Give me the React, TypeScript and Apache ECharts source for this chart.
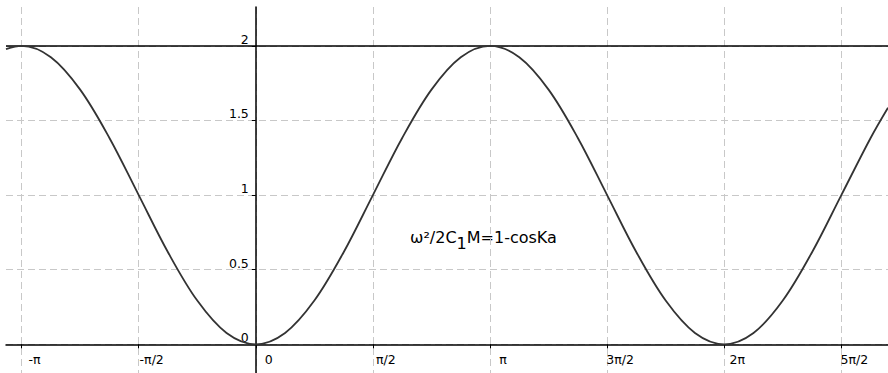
import React, { useEffect, useRef } from "react";
import * as echarts from "echarts";

// Curve samples (x in radians, y value)
const curveX = [
  -3.351, -3.1416, -2.7489, -2.3562, -1.9635, -1.5708, -1.1781, -0.7854, -0.3927, 0,
  0.3927, 0.7854, 1.1781, 1.5708, 1.9635, 2.3562, 2.7489, 3.1416, 3.5343, 3.927,
  4.3197, 4.7124, 5.1051, 5.4978, 5.8905, 6.2832, 6.6759, 7.0686, 7.4613, 7.854,
  8.2467, 8.48,
];
const curveY = [
  1.978, 2, 1.924, 1.707, 1.383, 1, 0.617, 0.293, 0.076, 0,
  0.076, 0.293, 0.617, 1, 1.383, 1.707, 1.924, 2, 1.924, 1.707,
  1.383, 1, 0.617, 0.293, 0.076, 0, 0.076, 0.293, 0.617, 1,
  1.383, 1.586,
];
const levelY = 2;

const xTickValues = [-Math.PI, -Math.PI / 2, 0, Math.PI / 2, Math.PI, (3 * Math.PI) / 2, 2 * Math.PI, (5 * Math.PI) / 2];
const xTickLabels = ["-π", "-π/2", "0", "π/2", "π", "3π/2", "2π", "5π/2"];
const yTickValues = [0, 0.5, 1, 1.5, 2];
const yTickLabels = ["0", "0.5", "1", "1.5", "2"];

const X_MIN = -3.351;
const X_MAX = 8.48;
const Y_MIN = -0.1924;
const Y_MAX = 2.2607;

const GRID_LEFT = 6;
const GRID_TOP = 7;
const W = 888;
const H = 373;

const FONT = "'DejaVu Sans', 'Liberation Sans', Arial, sans-serif";

export default function App() {
  const ref = useRef<HTMLDivElement>(null);
  useEffect(() => {
    if (!ref.current) return;
    const chart = echarts.init(ref.current, undefined, { renderer: "svg" });
    const gridDash = { color: "#c8c8c8", width: 1, type: [7, 4] as any };
    const gw = W - GRID_LEFT;
    const gh = H - GRID_TOP;
    // place axis lines at the zero of the other axis
    const zeroXpx = GRID_LEFT + ((0 - X_MIN) / (X_MAX - X_MIN)) * gw;
    const zeroYpx = GRID_TOP + ((Y_MAX - 0) / (Y_MAX - Y_MIN)) * gh;
    chart.setOption({
      animation: false,
      backgroundColor: "#ffffff",
      grid: { left: GRID_LEFT, top: GRID_TOP, right: 0, bottom: 0, containLabel: false, outerBoundsMode: "none" },
      xAxis: {
        type: "value",
        min: X_MIN,
        max: X_MAX,
        position: "bottom",
        offset: -(H - zeroYpx),
        axisLine: { onZero: false, lineStyle: { color: "#000", width: 1.5 } },
        axisTick: { show: true, length: 4, customValues: xTickValues, lineStyle: { color: "#000" } },
        axisLabel: {
          customValues: xTickValues,
          formatter: (v: number) => {
            const i = xTickValues.findIndex((t) => Math.abs(t - v) < 1e-6);
            return i >= 0 ? xTickLabels[i] : "";
          },
          color: "#000",
          fontFamily: FONT,
          fontSize: 12.5,
          align: "center",
          padding: [0, 0, 0, 26],
          margin: 9,
        },
        splitLine: { show: true, lineStyle: gridDash },
      },
      yAxis: {
        type: "value",
        min: Y_MIN,
        max: Y_MAX,
        position: "left",
        offset: -(zeroXpx - GRID_LEFT),
        axisLine: { onZero: false, lineStyle: { color: "#000", width: 1.5 } },
        axisTick: { show: true, length: 4, customValues: yTickValues, lineStyle: { color: "#000" } },
        axisLabel: {
          customValues: yTickValues,
          formatter: (v: number) => {
            const i = yTickValues.findIndex((t) => Math.abs(t - v) < 1e-6);
            return i >= 0 ? yTickLabels[i] : "";
          },
          color: "#000",
          fontFamily: FONT,
          fontSize: 12.5,
          align: "right",
          verticalAlign: "bottom",
          margin: 7,
        },
        splitLine: { show: true, lineStyle: gridDash },
      },
      series: [
        {
          type: "line",
          data: [
            [X_MIN, levelY],
            [X_MAX, levelY],
          ],
          showSymbol: false,
          lineStyle: { color: "#000", width: 1.5 },
          z: 3,
        },
        {
          type: "line",
          data: curveX.map((x, i) => [x, curveY[i]]),
          smooth: 0.35,
          showSymbol: false,
          lineStyle: { color: "#333", width: 1.8 },
          z: 4,
        },
      ],
      graphic: [
        {
          type: "text",
          left: 410,
          top: 229,
          style: {
            text: "{a|ω²/2C}{s|1}{a|M=1-cosKa}",
            fill: "#000",
            rich: {
              a: { fontFamily: FONT, fontSize: 16, fill: "#000" },
              s: { fontFamily: FONT, fontSize: 16, fill: "#000", padding: [12, 0, 0, 0] },
            },
          },
        },
      ],
    });
    return () => chart.dispose();
  }, []);
  return (
    <div
      ref={ref}
      style={{ position: "absolute", left: 0, top: 0, width: W, height: H, background: "#fff" }}
    />
  );
}
